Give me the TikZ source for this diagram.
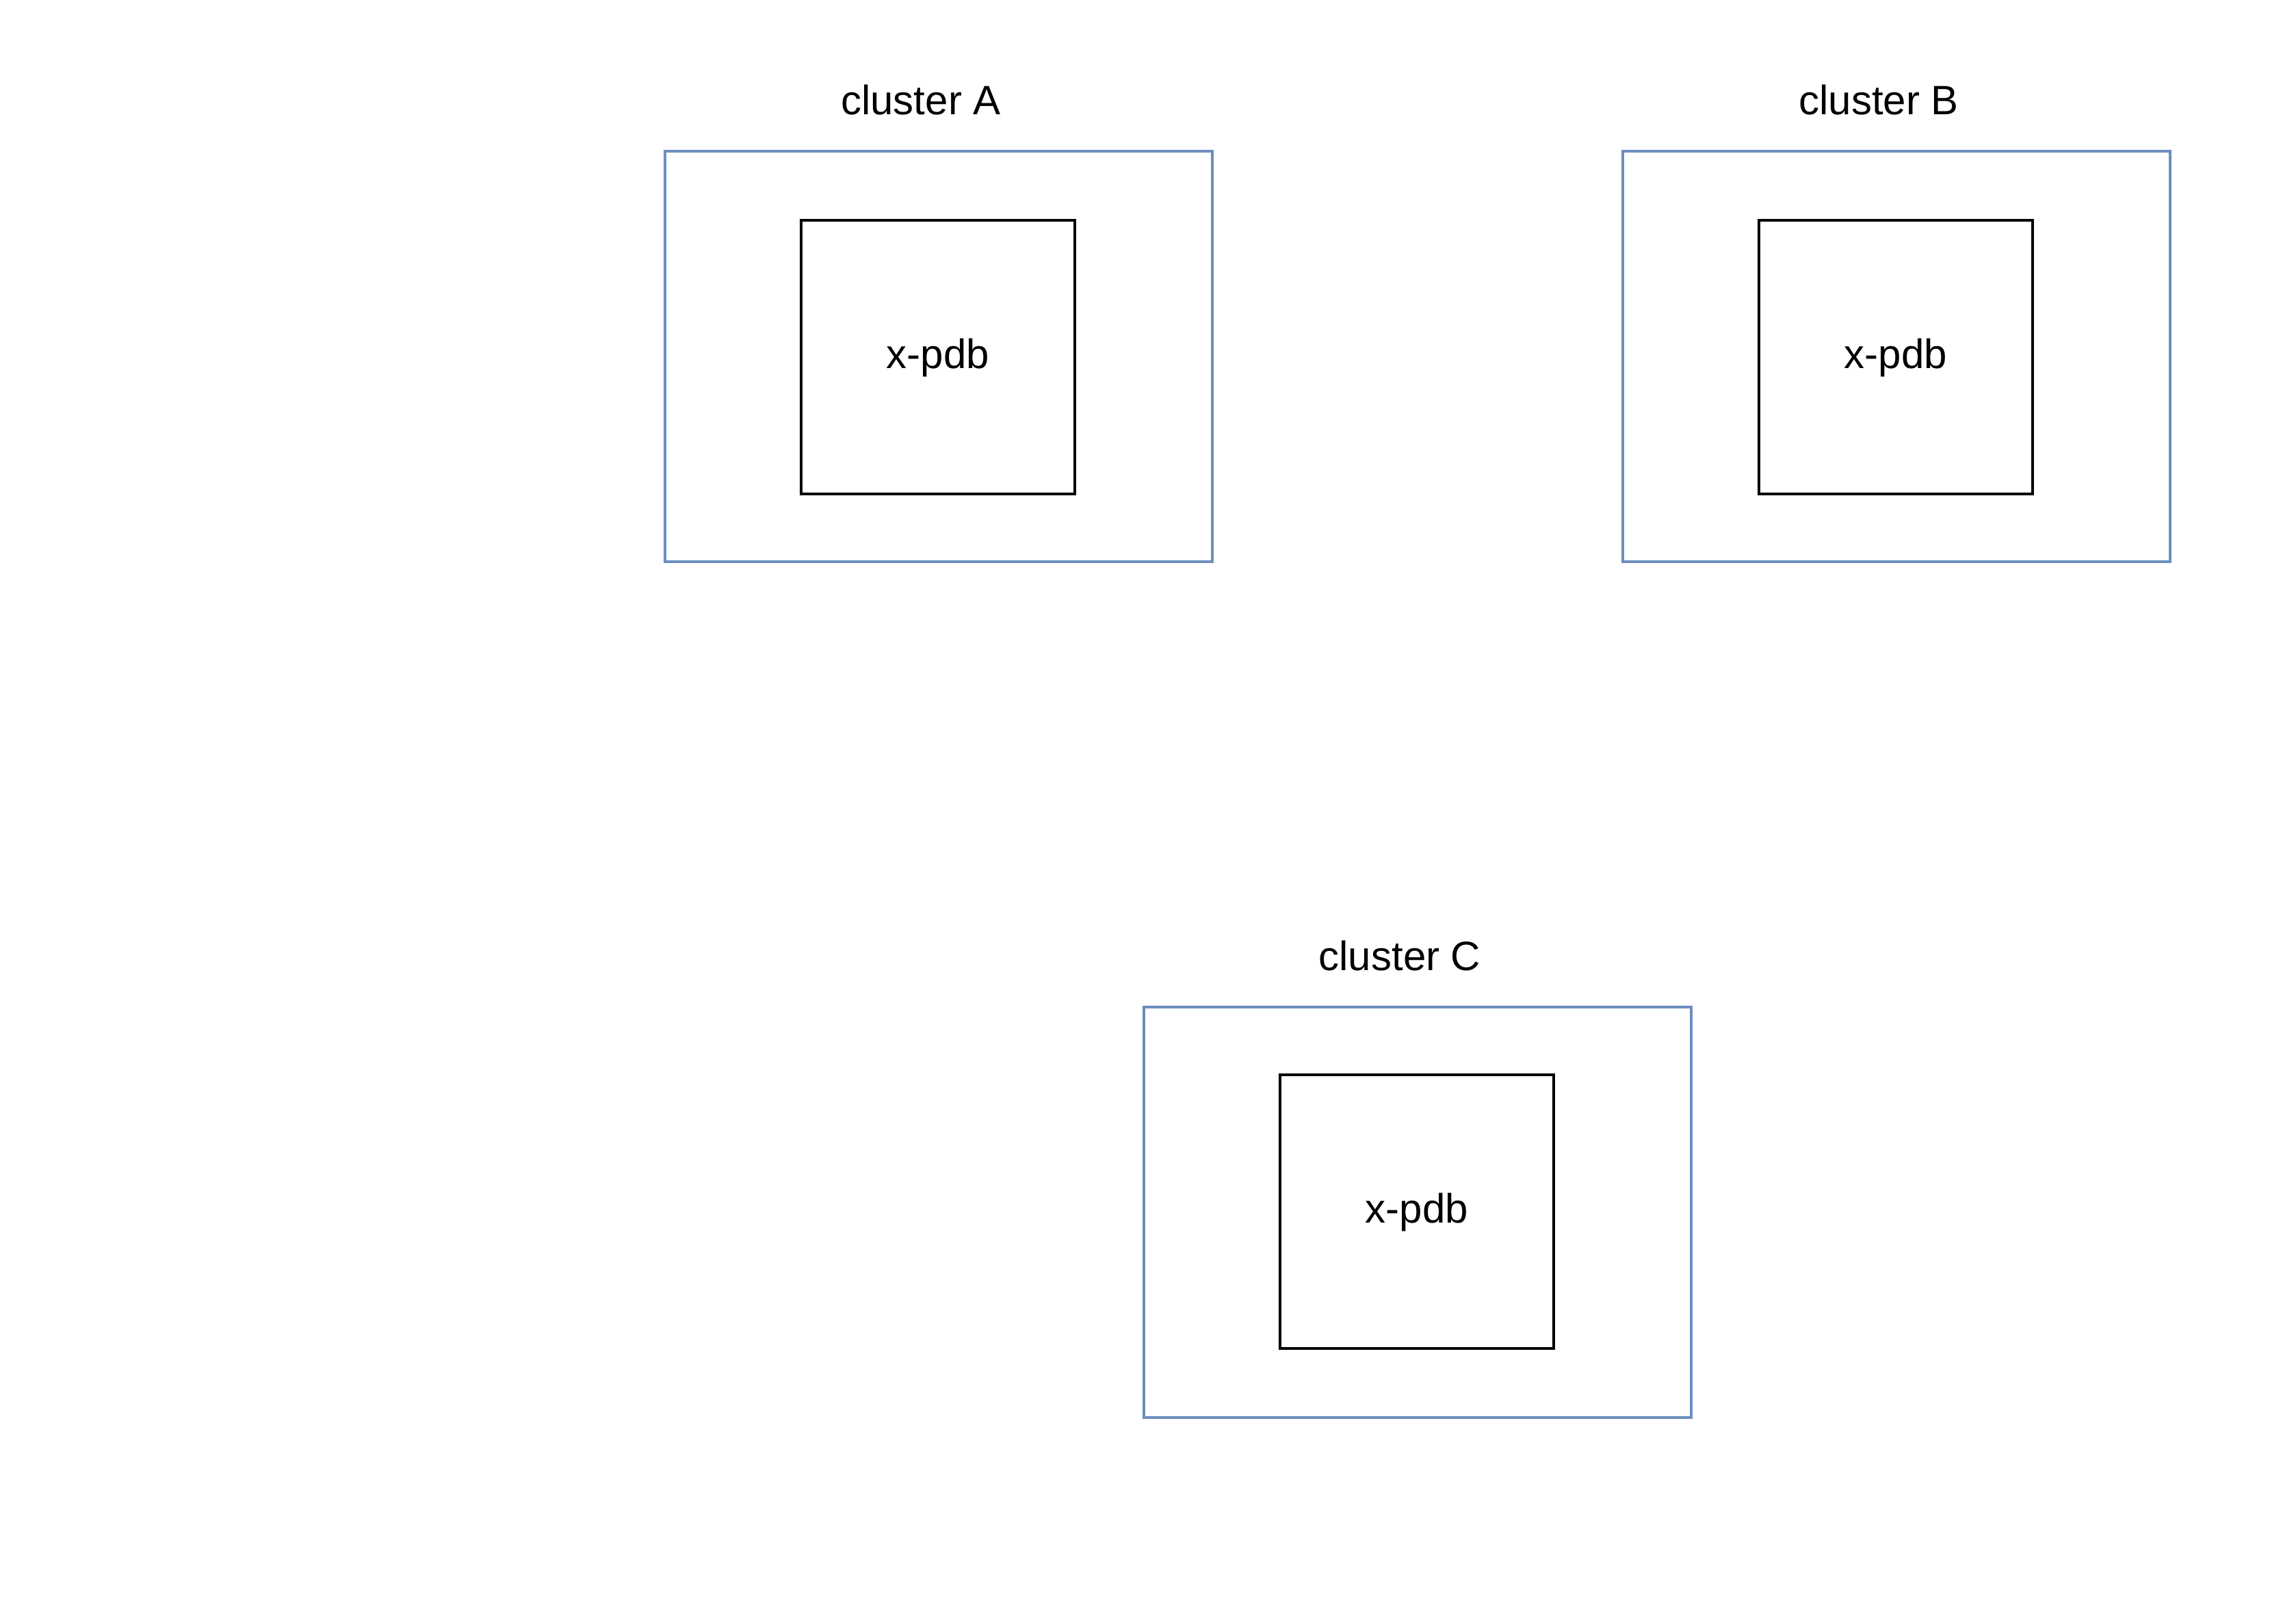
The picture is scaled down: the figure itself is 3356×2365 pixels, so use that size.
\documentclass[tikz,border=0pt]{standalone}
\usepackage{fontspec}
\setmainfont{Liberation Sans}
\definecolor{clusterblue}{HTML}{6C8EBF}
\begin{document}
\begin{tikzpicture}[x=0.5pt,y=-0.5pt,
  clusterbox/.style={draw=clusterblue,line width=2pt,minimum width=400pt,minimum height=300pt,inner sep=0pt},
  pdbbox/.style={draw=black,line width=2pt,minimum width=200pt,minimum height=200pt,inner sep=0pt,font=\fontsize{30pt}{36pt}\selectfont},
  clabel/.style={anchor=base,inner sep=0pt,font=\fontsize{30pt}{36pt}\selectfont}]
\useasboundingbox (0,0) rectangle (3356,2365);
% cluster A
\node[clusterbox] (ca) at (1372,521) {};
\node[pdbbox] (pa) at (1371,522) {};
\node[anchor=base,inner sep=0pt,font=\fontsize{30pt}{36pt}\selectfont] (ta) at (1371,538) {x-pdb};
\node[clabel] (la) at (1346,168) {cluster A};
% cluster B
\node[clusterbox] (cb) at (2772,521) {};
\node[pdbbox] (pb) at (2771,522) {};
\node[anchor=base,inner sep=0pt,font=\fontsize{30pt}{36pt}\selectfont] (tb) at (2771,538) {x-pdb};
\node[clabel] (lb) at (2746,168) {cluster B};
% cluster C
\node[clusterbox] (cc) at (2072,1772) {};
\node[pdbbox] (pc) at (2071,1771) {};
\node[anchor=base,inner sep=0pt,font=\fontsize{30pt}{36pt}\selectfont] (tc) at (2071,1787) {x-pdb};
\node[clabel] (lc) at (2046,1418) {cluster C};
\end{tikzpicture}
\end{document}
